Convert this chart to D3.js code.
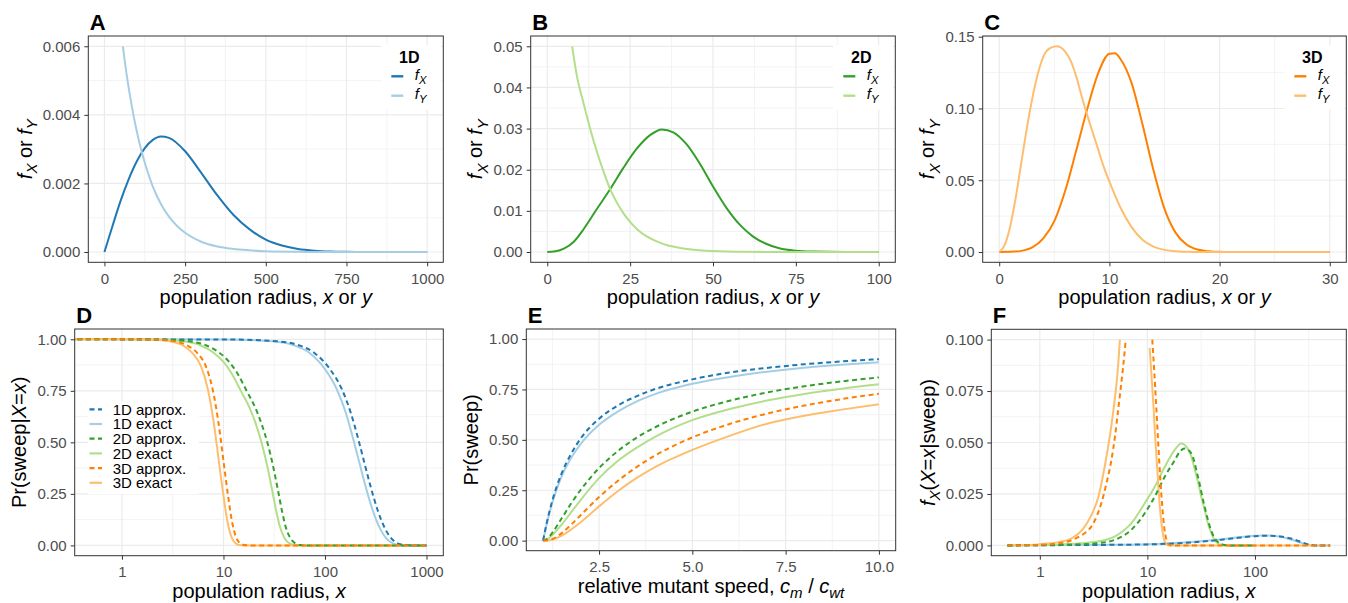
<!DOCTYPE html>
<meta charset="utf-8">
<style>
  body { margin: 0; background: #fff; }
  svg text { font-family: "Liberation Sans", Arial, sans-serif; white-space: pre; }
  .tick text { fill: #4d4d4d; font-size: 15px; font-family: "Liberation Sans", Arial, sans-serif; }
  .tick line { stroke: #333; }
  .grid line { stroke: #ebebeb; }
  .title { font-size: 20px; fill: #000; }
  .letter { font-size: 22px; font-weight: bold; }
</style>
<svg id="chart" width="1348" height="603"></svg>
<script src="https://cdn.jsdelivr.net/npm/d3@7"></script>
<script>
// ---- data ----
// A: 1D densities
const fX1D = [[0,0],[25,0.00076],[50,0.00149],[75,0.00212],[100,0.00264],[125,0.00303],[150,0.00327],[175,0.00337],[200,0.00333],[250,0.00294],[300,0.00231],[350,0.00165],[400,0.00108],[450,0.00066],[500,0.00036],[550,0.00019],[600,0.00009],[650,0.00004],[700,0.000015],[750,0.000005],[800,0],[1000,0]];
const fY1D = [[57,0.0060],[70,0.0051],[85,0.00424],[100,0.00353],[115,0.00294],[130,0.00245],[150,0.00191],[175,0.00140],[200,0.00103],[225,0.00076],[250,0.00056],[300,0.00030],[350,0.00016],[400,0.00009],[450,0.00005],[500,0.00002],[600,0.000005],[700,0],[1000,0]];
// B: 2D densities
const fX2D = [[0,0],[2,0.0001],[5,0.0008],[8,0.0025],[11,0.0056],[15,0.0105],[19,0.0153],[23,0.0205],[27,0.0251],[31,0.0284],[34.6,0.0298],[38,0.0291],[42,0.0262],[46,0.0215],[50,0.0159],[54,0.0108],[58,0.0067],[62,0.0038],[66,0.0020],[70,0.0009],[75,0.0003],[80,0.0001],[90,0],[100,0]];
const fY2D = [[7.5,0.050],[9,0.0425],[11,0.0360],[13,0.0298],[15,0.0243],[17,0.0195],[19,0.0152],[21,0.0120],[23,0.0094],[25,0.0073],[27,0.0056],[30,0.0038],[33,0.0026],[36,0.0017],[40,0.0010],[45,0.0005],[50,0.00025],[60,0.00005],[70,0],[100,0]];
// C: 3D densities
const fX3D = [[0,0],[1,0.0001],[2,0.0008],[3,0.0032],[4,0.0095],[5,0.0215],[6,0.0430],[7,0.0710],[8,0.1000],[9,0.1250],[10,0.1382],[10.5,0.1385],[11,0.1345],[12,0.1180],[13,0.0890],[14,0.0570],[15,0.0300],[16,0.0135],[17,0.0052],[18,0.0017],[19,0.0005],[20,0.0001],[22,0],[30,0]];
const fY3D = [[0,0],[0.5,0.005],[1,0.018],[1.5,0.038],[2,0.062],[2.5,0.086],[3,0.107],[3.5,0.124],[4,0.136],[4.5,0.1415],[5.2,0.1433],[6,0.1395],[6.5,0.133],[7,0.122],[7.5,0.108],[8,0.095],[8.5,0.083],[9,0.071],[9.5,0.059],[10,0.049],[11,0.031],[12,0.0175],[13,0.0085],[14,0.0038],[15,0.0015],[16,0.0005],[17,0.0002],[18,0],[30,0]];
// D: Pr(sweep | X = x)
const d1Dexact = [[0.3,1],[10,0.999],[30,0.99],[50,0.97],[70,0.935],[100,0.855],[130,0.76],[160,0.645],[190,0.515],[220,0.395],[250,0.29],[300,0.16],[350,0.08],[400,0.035],[450,0.014],[500,0.005],[600,0.0005],[700,0],[1000,0]];
const d1Dapprox = [[0.3,1],[11,0.999],[34,0.99],[56,0.97],[78,0.935],[112,0.855],[146,0.76],[179,0.645],[213,0.515],[246,0.395],[280,0.29],[336,0.16],[392,0.08],[448,0.035],[504,0.014],[560,0.005],[672,0.0005],[780,0],[1000,0]];
const d2Dexact = [[0.3,1],[2,0.999],[4,0.99],[6,0.97],[8,0.935],[10,0.89],[12,0.835],[15,0.745],[18,0.67],[21,0.585],[24,0.49],[27,0.385],[30,0.275],[33,0.17],[36,0.09],[40,0.035],[45,0.009],[50,0.002],[60,0],[1000,0]];
const d2Dapprox = [[0.3,1],[2.3,0.999],[4.6,0.99],[6.8,0.97],[9.1,0.935],[11.4,0.89],[13.7,0.835],[17.1,0.745],[20.5,0.67],[23.9,0.585],[27.4,0.49],[30.8,0.385],[34.2,0.275],[37.6,0.17],[41,0.09],[45.6,0.035],[51.3,0.009],[57,0.002],[68,0],[1000,0]];
const d3Dexact = [[0.3,1],[1,1],[2,0.998],[3,0.99],[4,0.97],[5,0.93],[6,0.87],[7,0.76],[8,0.6],[9,0.41],[10,0.24],[11,0.11],[12,0.04],[13,0.012],[14,0.003],[16,0],[1000,0]];
const d3Dapprox = [[0.3,1],[1.1,1],[2.2,0.998],[3.3,0.99],[4.4,0.97],[5.6,0.93],[6.7,0.87],[7.8,0.76],[8.9,0.6],[10,0.41],[11.1,0.24],[12.2,0.11],[13.3,0.04],[14.4,0.012],[15.5,0.003],[17.8,0],[1000,0]];
// E: Pr(sweep) vs relative speed
const speed = [1,1.1,1.25,1.5,1.75,2,2.5,3,3.5,4,5,6,7,8,9,10];
const e1Dapprox = [0,0.09,0.2,0.335,0.43,0.505,0.605,0.67,0.716,0.752,0.8,0.834,0.857,0.875,0.889,0.9];
const e1Dexact = [0,0.085,0.19,0.32,0.41,0.478,0.575,0.64,0.69,0.727,0.778,0.812,0.838,0.858,0.873,0.885];
const e2Dapprox = [0,0.008,0.04,0.111,0.184,0.25,0.36,0.444,0.51,0.562,0.64,0.694,0.735,0.766,0.79,0.81];
const e2Dexact = [0,0.005,0.028,0.08,0.14,0.2,0.31,0.395,0.46,0.515,0.598,0.653,0.695,0.728,0.754,0.776];
const e3Dapprox = [0,0.001,0.008,0.037,0.079,0.125,0.216,0.296,0.364,0.422,0.512,0.579,0.63,0.67,0.702,0.729];
const e3Dexact = [0,0.0005,0.005,0.025,0.055,0.09,0.17,0.245,0.31,0.365,0.45,0.52,0.58,0.62,0.65,0.677];
// F: f_X(X = x | sweep); null = above the axis limit
const f1Dexact = [[0.5,0],[1,0.0001],[3,0.0003],[10,0.0006],[20,0.0013],[40,0.0025],[60,0.0035],[100,0.0047],[125,0.0048],[160,0.0044],[200,0.0034],[250,0.0018],[300,0.0005],[340,0],[500,0]];
const f1Dapprox = [[0.5,0],[1,0.0001],[3,0.0002],[10,0.0005],[20,0.0011],[40,0.0023],[60,0.0033],[100,0.0045],[140,0.0047],[180,0.0042],[220,0.0032],[270,0.0016],[320,0.0004],[360,0],[500,0]];
const f2Dexact = [[0.5,0],[1,0.0002],[2,0.0008],[3.48,0.0019],[5,0.0044],[7.1,0.0108],[9.45,0.0205],[11.7,0.0285],[14.5,0.0382],[17.9,0.0463],[20.7,0.0495],[23,0.048],[25.5,0.0435],[27.5,0.037],[29.5,0.031],[31.7,0.0235],[34,0.0175],[36.6,0.0105],[39.4,0.0058],[42.2,0.0025],[45.5,0.0009],[48.7,0.0003],[55,0],[100,0]];
const f2Dapprox = [[0.5,0],[1,0.0001],[2,0.0004],[3.48,0.0011],[4.97,0.0027],[7.1,0.0076],[9.45,0.0156],[11.7,0.0237],[14.5,0.0334],[18,0.0415],[20,0.0455],[22.2,0.0471],[25.6,0.0447],[29.5,0.0334],[34,0.0189],[39.4,0.0068],[45.5,0.0015],[52.4,0.0002],[60,0],[100,0]];
const f3Dexact = [[0.5,0],[0.7,0.0001],[1,0.0006],[1.5,0.0016],[2,0.0036],[2.5,0.0078],[3,0.0145],[3.5,0.0235],[4,0.038],[4.5,0.054],[5,0.072],[5.3,0.085],[5.55,0.1],[8,null],[10.5,0.096],[11,0.08],[11.5,0.064],[11.9,0.05],[12.5,0.033],[13,0.02],[13.5,0.011],[14,0.005],[14.5,0.0018],[15,0.0005],[16,0],[500,0]];
const f3Dapprox = [[0.5,0],[0.7,0.0001],[1,0.0003],[1.7,0.0015],[2.27,0.004],[2.7,0.0065],[3,0.009],[3.4,0.0145],[3.73,0.0205],[4.2,0.031],[4.63,0.0415],[5,0.053],[5.34,0.0656],[5.94,0.0866],[6.3,0.1],[8,null],[11.1,0.1],[11.6,0.084],[12.1,0.067],[12.6,0.05],[13.2,0.032],[13.8,0.018],[14.4,0.008],[15,0.003],[15.5,0.001],[16.5,0],[500,0]];

const legendD = ["1D approx.", "1D exact", "2D approx.", "2D exact", "3D approx.", "3D exact"];

const blueDark = "#1f78b4", blueLight = "#a6cee3",
      greenDark = "#33a02c", greenLight = "#b2df8a",
      orangeDark = "#ff7f00", orangeLight = "#fdbf6f";
const dashes = "5,3.5";

const svg = d3.select("#chart");

// text with italic parts and subscripts: parts = [[text, "i" | "is" | ""]]
function rich(sel, parts, size) {
  let shift = 0;
  parts.forEach(([t, s = ""]) => {
    const sub = s.includes("s");
    const off = sub ? size * 0.27 : 0;
    const ts = sel.append("tspan").attr("dy", off - shift).text(t);
    shift = off;
    if (s.includes("i")) ts.style("font-style", "italic");
    if (sub) ts.style("font-size", (size * 0.75) + "px");
  });
}

function drawPanel(p) {
  const [l, t, r, b] = p.box;
  const x = p.x.range([l, r]);
  const y = p.y.range([b, t]);
  const g = svg.append("g");

  const grid = g.append("g").attr("class", "grid");
  grid.selectAll(null).data(p.xMinor).join("line")
    .attr("x1", x).attr("x2", x).attr("y1", t).attr("y2", b).attr("stroke-width", 0.6);
  grid.selectAll(null).data(p.yMinor).join("line")
    .attr("y1", y).attr("y2", y).attr("x1", l).attr("x2", r).attr("stroke-width", 0.6);
  grid.selectAll(null).data(p.xMajor).join("line")
    .attr("x1", x).attr("x2", x).attr("y1", t).attr("y2", b).attr("stroke-width", 1.2);
  grid.selectAll(null).data(p.yMajor).join("line")
    .attr("y1", y).attr("y2", y).attr("x1", l).attr("x2", r).attr("stroke-width", 1.2);

  const id = "clip" + p.letter;
  svg.append("clipPath").attr("id", id).append("rect")
    .attr("x", l).attr("y", t).attr("width", r - l).attr("height", b - t);

  const line = d3.line()
    .defined(d => d[1] !== null)
    .x(d => x(d[0])).y(d => y(d[1]))
    .curve(d3.curveMonotoneX);

  const lines = g.append("g").attr("clip-path", `url(#${id})`);
  p.series.forEach(s => {
    lines.append("path")
      .attr("d", line(s.data))
      .attr("fill", "none")
      .attr("stroke", s.color)
      .attr("stroke-width", 2)
      .attr("stroke-dasharray", s.dash ? dashes : null);
  });

  if (p.legend) p.legend(g, p);

  g.append("rect").attr("x", l).attr("y", t).attr("width", r - l).attr("height", b - t)
    .attr("fill", "none").attr("stroke", "#333").attr("stroke-width", 1);

  const xa = g.append("g").attr("transform", `translate(0,${b})`)
    .call(d3.axisBottom(x).tickValues(p.xMajor).tickFormat(p.xFmt)
      .tickSizeInner(4).tickSizeOuter(0).tickPadding(7));
  const ya = g.append("g").attr("transform", `translate(${l},0)`)
    .call(d3.axisLeft(y).tickValues(p.yMajor).tickFormat(p.yFmt)
      .tickSizeInner(4).tickSizeOuter(0).tickPadding(4));
  xa.select(".domain").remove();
  ya.select(".domain").remove();

  const xt = g.append("text").attr("class", "title")
    .attr("x", (l + r) / 2).attr("y", b + 42).attr("text-anchor", "middle");
  rich(xt, p.xTitle, 20);

  const bb = ya.node().getBBox();
  const yt = g.append("text").attr("class", "title")
    .attr("transform", `translate(${l + bb.x - 11},${(t + b) / 2}) rotate(-90)`)
    .attr("text-anchor", "middle");
  rich(yt, p.yTitle, 20);

  g.append("text").attr("class", "letter")
    .attr("x", l + 1.5).attr("y", t - 6.5).text(p.letter);
}

function densityLegend(title, cDark, cLight) {
  return (g, p) => {
    const r = p.box[2], k = r - 52;
    g.append("rect").attr("x", k - 10).attr("y", 45).attr("width", r - 2 - (k - 10)).attr("height", 65)
      .attr("fill", "#fff");
    g.append("text").attr("x", k + 18).attr("y", 62.7).attr("text-anchor", "middle")
      .style("font-weight", "bold").style("font-size", "16px").text(title);
    [["X", cDark], ["Y", cLight]].forEach(([sub, c], i) => {
      const yy = 76.3 + i * 19.4;
      g.append("line").attr("x1", k).attr("x2", k + 12).attr("y1", yy).attr("y2", yy)
        .attr("stroke", c).attr("stroke-width", 2.4);
      const tx = g.append("text").attr("x", k + 23.5).attr("y", yy + 3.5).style("font-size", "15px");
      rich(tx, [["f", "i"], [sub, "is"]], 15);
    });
  };
}

function sweepLegend(g) {
  const cols = [blueDark, blueLight, greenDark, greenLight, orangeDark, orangeLight];
  g.append("rect").attr("x", 88).attr("y", 401.7).attr("width", 111).attr("height", 92.3).attr("fill", "#fff");
  legendD.forEach((lab, i) => {
    const yy = 409.3 + i * 14.7;
    g.append("line").attr("x1", 89.5).attr("x2", 102).attr("y1", yy).attr("y2", yy)
      .attr("stroke", cols[i]).attr("stroke-width", 2.2)
      .attr("stroke-dasharray", i % 2 === 0 ? dashes : null);
    g.append("text").attr("x", 112.7).attr("y", yy + 5.4).style("font-size", "15px").text(lab);
  });
}

const radiusXY = [["population radius, "], ["x", "i"], [" or "], ["y", "i"]];
const radiusX = [["population radius, "], ["x", "i"]];
const fXorfY = [["f", "i"], ["X", "is"], [" or "], ["f", "i"], ["Y", "is"]];
const num = d => String(d);

drawPanel({
  letter: "A", box: [88.3, 36, 443.3, 262.3],
  x: d3.scaleLinear().domain([-50, 1050]), y: d3.scaleLinear().domain([-0.0003, 0.0063]),
  xMajor: [0, 250, 500, 750, 1000], xMinor: [125, 375, 625, 875],
  yMajor: [0, 0.002, 0.004, 0.006], yMinor: [0.001, 0.003, 0.005],
  xFmt: num, yFmt: d3.format(".3f"),
  series: [{ data: fX1D, color: blueDark }, { data: fY1D, color: blueLight }],
  xTitle: radiusXY, yTitle: fXorfY, legend: densityLegend("1D", blueDark, blueLight)
});

drawPanel({
  letter: "B", box: [530.7, 36, 895.3, 262.3],
  x: d3.scaleLinear().domain([-5, 105]), y: d3.scaleLinear().domain([-0.0025, 0.0525]),
  xMajor: [0, 25, 50, 75, 100], xMinor: [12.5, 37.5, 62.5, 87.5],
  yMajor: [0, 0.01, 0.02, 0.03, 0.04, 0.05], yMinor: [0.005, 0.015, 0.025, 0.035, 0.045],
  xFmt: num, yFmt: d3.format(".2f"),
  series: [{ data: fX2D, color: greenDark }, { data: fY2D, color: greenLight }],
  xTitle: radiusXY, yTitle: fXorfY, legend: densityLegend("2D", greenDark, greenLight)
});

drawPanel({
  letter: "C", box: [982.7, 36, 1346.3, 262.3],
  x: d3.scaleLinear().domain([-1.5, 31.5]), y: d3.scaleLinear().domain([-0.00717, 0.1505]),
  xMajor: [0, 10, 20, 30], xMinor: [5, 15, 25],
  yMajor: [0, 0.05, 0.1, 0.15], yMinor: [0.025, 0.075, 0.125],
  xFmt: num, yFmt: d3.format(".2f"),
  series: [{ data: fX3D, color: orangeDark }, { data: fY3D, color: orangeLight }],
  xTitle: radiusXY, yTitle: fXorfY, legend: densityLegend("3D", orangeDark, orangeLight)
});

drawPanel({
  letter: "D", box: [74.7, 329, 443.3, 555.7],
  x: d3.scaleLog().domain([Math.pow(10, -0.4655), Math.pow(10, 3.1655)]), y: d3.scaleLinear().domain([-0.05, 1.05]),
  xMajor: [1, 10, 100, 1000], xMinor: [Math.sqrt(10), Math.sqrt(1000), Math.sqrt(100000)],
  yMajor: [0, 0.25, 0.5, 0.75, 1], yMinor: [0.125, 0.375, 0.625, 0.875],
  xFmt: num, yFmt: d3.format(".2f"),
  series: [
    { data: d1Dexact, color: blueLight }, { data: d2Dexact, color: greenLight }, { data: d3Dexact, color: orangeLight },
    { data: d1Dapprox, color: blueDark, dash: true }, { data: d2Dapprox, color: greenDark, dash: true }, { data: d3Dapprox, color: orangeDark, dash: true }
  ],
  xTitle: radiusX,
  yTitle: [["Pr(sweep|"], ["X", "i"], ["="], ["x", "i"], [")"]],
  legend: sweepLegend
});

drawPanel({
  letter: "E", box: [526.3, 329, 895.7, 550.7],
  x: d3.scaleLinear().domain([0.55, 10.45]), y: d3.scaleLinear().domain([-0.05, 1.05]),
  xMajor: [2.5, 5, 7.5, 10], xMinor: [1.25, 3.75, 6.25, 8.75],
  yMajor: [0, 0.25, 0.5, 0.75, 1], yMinor: [0.125, 0.375, 0.625, 0.875],
  xFmt: d3.format(".1f"), yFmt: d3.format(".2f"),
  series: [
    { data: d3.zip(speed, e1Dexact), color: blueLight }, { data: d3.zip(speed, e2Dexact), color: greenLight }, { data: d3.zip(speed, e3Dexact), color: orangeLight },
    { data: d3.zip(speed, e1Dapprox), color: blueDark, dash: true }, { data: d3.zip(speed, e2Dapprox), color: greenDark, dash: true }, { data: d3.zip(speed, e3Dapprox), color: orangeDark, dash: true }
  ],
  xTitle: [["relative mutant speed, "], ["c", "i"], ["m", "is"], [" / "], ["c", "i"], ["wt", "is"]],
  yTitle: [["Pr(sweep)"]]
});

drawPanel({
  letter: "F", box: [991.3, 329.3, 1346.3, 555.7],
  x: d3.scaleLog().domain([Math.pow(10, -0.451), Math.pow(10, 2.849)]), y: d3.scaleLinear().domain([-0.005, 0.105]),
  xMajor: [1, 10, 100], xMinor: [Math.sqrt(10), Math.sqrt(1000), Math.sqrt(100000)],
  yMajor: [0, 0.025, 0.05, 0.075, 0.1], yMinor: [0.0125, 0.0375, 0.0625, 0.0875],
  xFmt: num, yFmt: d3.format(".3f"),
  series: [
    { data: f1Dexact, color: blueLight }, { data: f2Dexact, color: greenLight }, { data: f3Dexact, color: orangeLight },
    { data: f1Dapprox, color: blueDark, dash: true }, { data: f2Dapprox, color: greenDark, dash: true }, { data: f3Dapprox, color: orangeDark, dash: true }
  ],
  xTitle: radiusX,
  yTitle: [["f", "i"], ["X", "is"], ["("], ["X", "i"], ["="], ["x", "i"], ["|sweep)"]]
});
</script>
